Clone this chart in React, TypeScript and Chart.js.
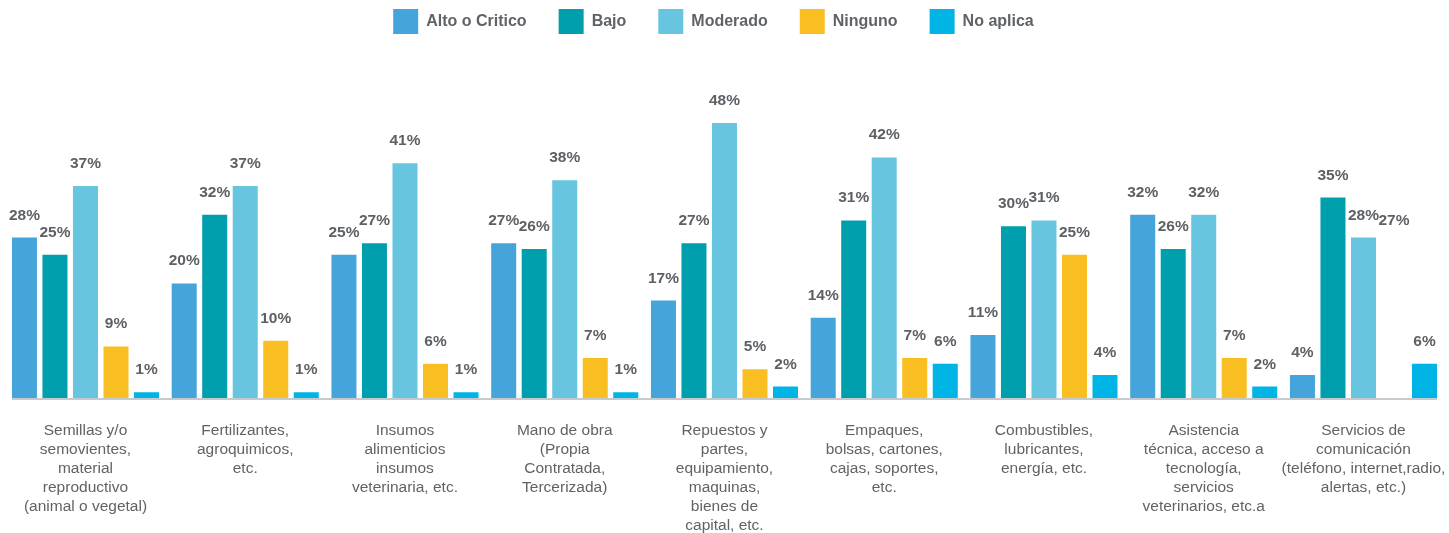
import React, { useEffect, useRef } from "react";
import { Chart, registerables } from "chart.js";

Chart.register(...registerables);

const categories: string[][] = [
  ["Semillas y/o", "semovientes,", "material", "reproductivo", "(animal o vegetal)"],
  ["Fertilizantes,", "agroquimicos,", "etc."],
  ["Insumos", "alimenticios", "insumos", "veterinaria, etc."],
  ["Mano de obra", "(Propia", "Contratada,", "Tercerizada)"],
  ["Repuestos y", "partes,", "equipamiento,", "maquinas,", "bienes de", "capital, etc."],
  ["Empaques,", "bolsas, cartones,", "cajas, soportes,", "etc."],
  ["Combustibles,", "lubricantes,", "energía, etc."],
  ["Asistencia", "técnica, acceso a", "tecnología,", "servicios", "veterinarios, etc.a"],
  ["Servicios de", "comunicación", "(teléfono, internet,radio,", "alertas, etc.)"],
];

const seriesNames = ["Alto o Critico", "Bajo", "Moderado", "Ninguno", "No aplica"];
const seriesColors = ["#45a4da", "#009fae", "#68c5e0", "#f8be22", "#00b4e6"];

const altoCritico = [28, 20, 25, 27, 17, 14, 11, 32, 4];
const bajo = [25, 32, 27, 26, 27, 31, 30, 26, 35];
const moderado = [37, 37, 41, 38, 48, 42, 31, 32, 28];
const ninguno = [9, 10, 6, 7, 5, 7, 25, 7, 27];
const noAplica = [1, 1, 1, 1, 2, 6, 4, 2, 6];

// bars whose column is not drawn in the reference (only its label shows)
const invisibleBars: { series: number; category: number }[] = [{ series: 3, category: 8 }];

const seriesValues = [altoCritico, bajo, moderado, ninguno, noAplica];

const labelPlugin = {
  id: "valueLabels",
  afterLayout(chart: any) {
    if (chart.legend) {
      chart.legend.left -= 11;
      chart.legend.right -= 11;
    }
  },
  beforeDatasetsDraw(chart: any) {
    const ctx = chart.ctx;
    const n = chart.data.datasets.length;
    const first = chart.getDatasetMeta(0).data[0];
    const lastMeta = chart.getDatasetMeta(n - 1).data;
    const last = lastMeta[lastMeta.length - 1];
    if (!first || !last) return;
    const x0 = first.x - first.width / 2;
    const x1 = last.x + last.width / 2;
    const y = chart.chartArea.bottom + 1;
    ctx.save();
    ctx.strokeStyle = "#c5cacf";
    ctx.lineWidth = 2;
    ctx.beginPath();
    ctx.moveTo(x0, y);
    ctx.lineTo(x1, y);
    ctx.stroke();
    ctx.restore();
  },
  afterDatasetsDraw(chart: any) {
    const ctx = chart.ctx;
    ctx.save();
    ctx.font = "bold 15.5px 'Liberation Sans', Arial, sans-serif";
    ctx.fillStyle = "#5d6166";
    ctx.textAlign = "center";
    ctx.textBaseline = "alphabetic";
    chart.data.datasets.forEach((ds: any, di: number) => {
      const meta = chart.getDatasetMeta(di);
      meta.data.forEach((el: any, i: number) => {
        const v = ds.data[i];
        ctx.fillText(v + "%", el.x, el.y - 18);
      });
    });
    ctx.restore();
  },
};

export default function App() {
  const ref = useRef<HTMLCanvasElement>(null);
  useEffect(() => {
    if (!ref.current) return;
    const chart = new Chart(ref.current, {
      type: "bar",
      data: {
        labels: categories,
        datasets: seriesNames.map((name, si) => ({
          label: name,
          data: seriesValues[si],
          backgroundColor: (c: any) =>
            c.type === "data" &&
            invisibleBars.some((b) => b.series === si && b.category === c.dataIndex)
              ? "rgba(0,0,0,0)"
              : seriesColors[si],
          borderWidth: 0,
          categoryPercentage: 0.955,
          barPercentage: 0.82,
        })),
      },
      options: {
        animation: false,
        responsive: true,
        maintainAspectRatio: false,
        layout: { padding: { top: -23, left: 5.6, right: 5.65, bottom: 0 } },
        plugins: {
          legend: {
            position: "top",
            labels: {
              boxWidth: 25,
              boxHeight: 25,
              padding: 32,
              color: "#5f6368",
              font: { family: "'Liberation Sans', Arial, sans-serif", size: 16, weight: "bold" },
            },
          },
          tooltip: { enabled: false },
        },
        scales: {
          x: {
            grid: {
              display: true,
              color: "rgba(0,0,0,0)",
              drawOnChartArea: false,
              drawTicks: true,
              tickLength: 23,
            },
            border: { display: false },
            ticks: {
              autoSkip: false,
              maxRotation: 0,
              minRotation: 0,
              padding: 0,
              color: "#606366",
              font: { family: "'Liberation Sans', Arial, sans-serif", size: 15.5, lineHeight: 1.226 },
            },
            afterFit: (scale: any) => {
              scale.height = 135;
              scale.paddingLeft = -100;
              scale.paddingRight = -100;
            },
          },
          y: {
            display: false,
            min: 0,
            max: 61.8,
          },
        },
      },
      plugins: [labelPlugin],
    });
    return () => chart.destroy();
  }, []);
  return (
    <div style={{ position: "fixed", left: 0, top: 0, width: 1449, height: 533 }}>
      <canvas ref={ref} />
    </div>
  );
}
